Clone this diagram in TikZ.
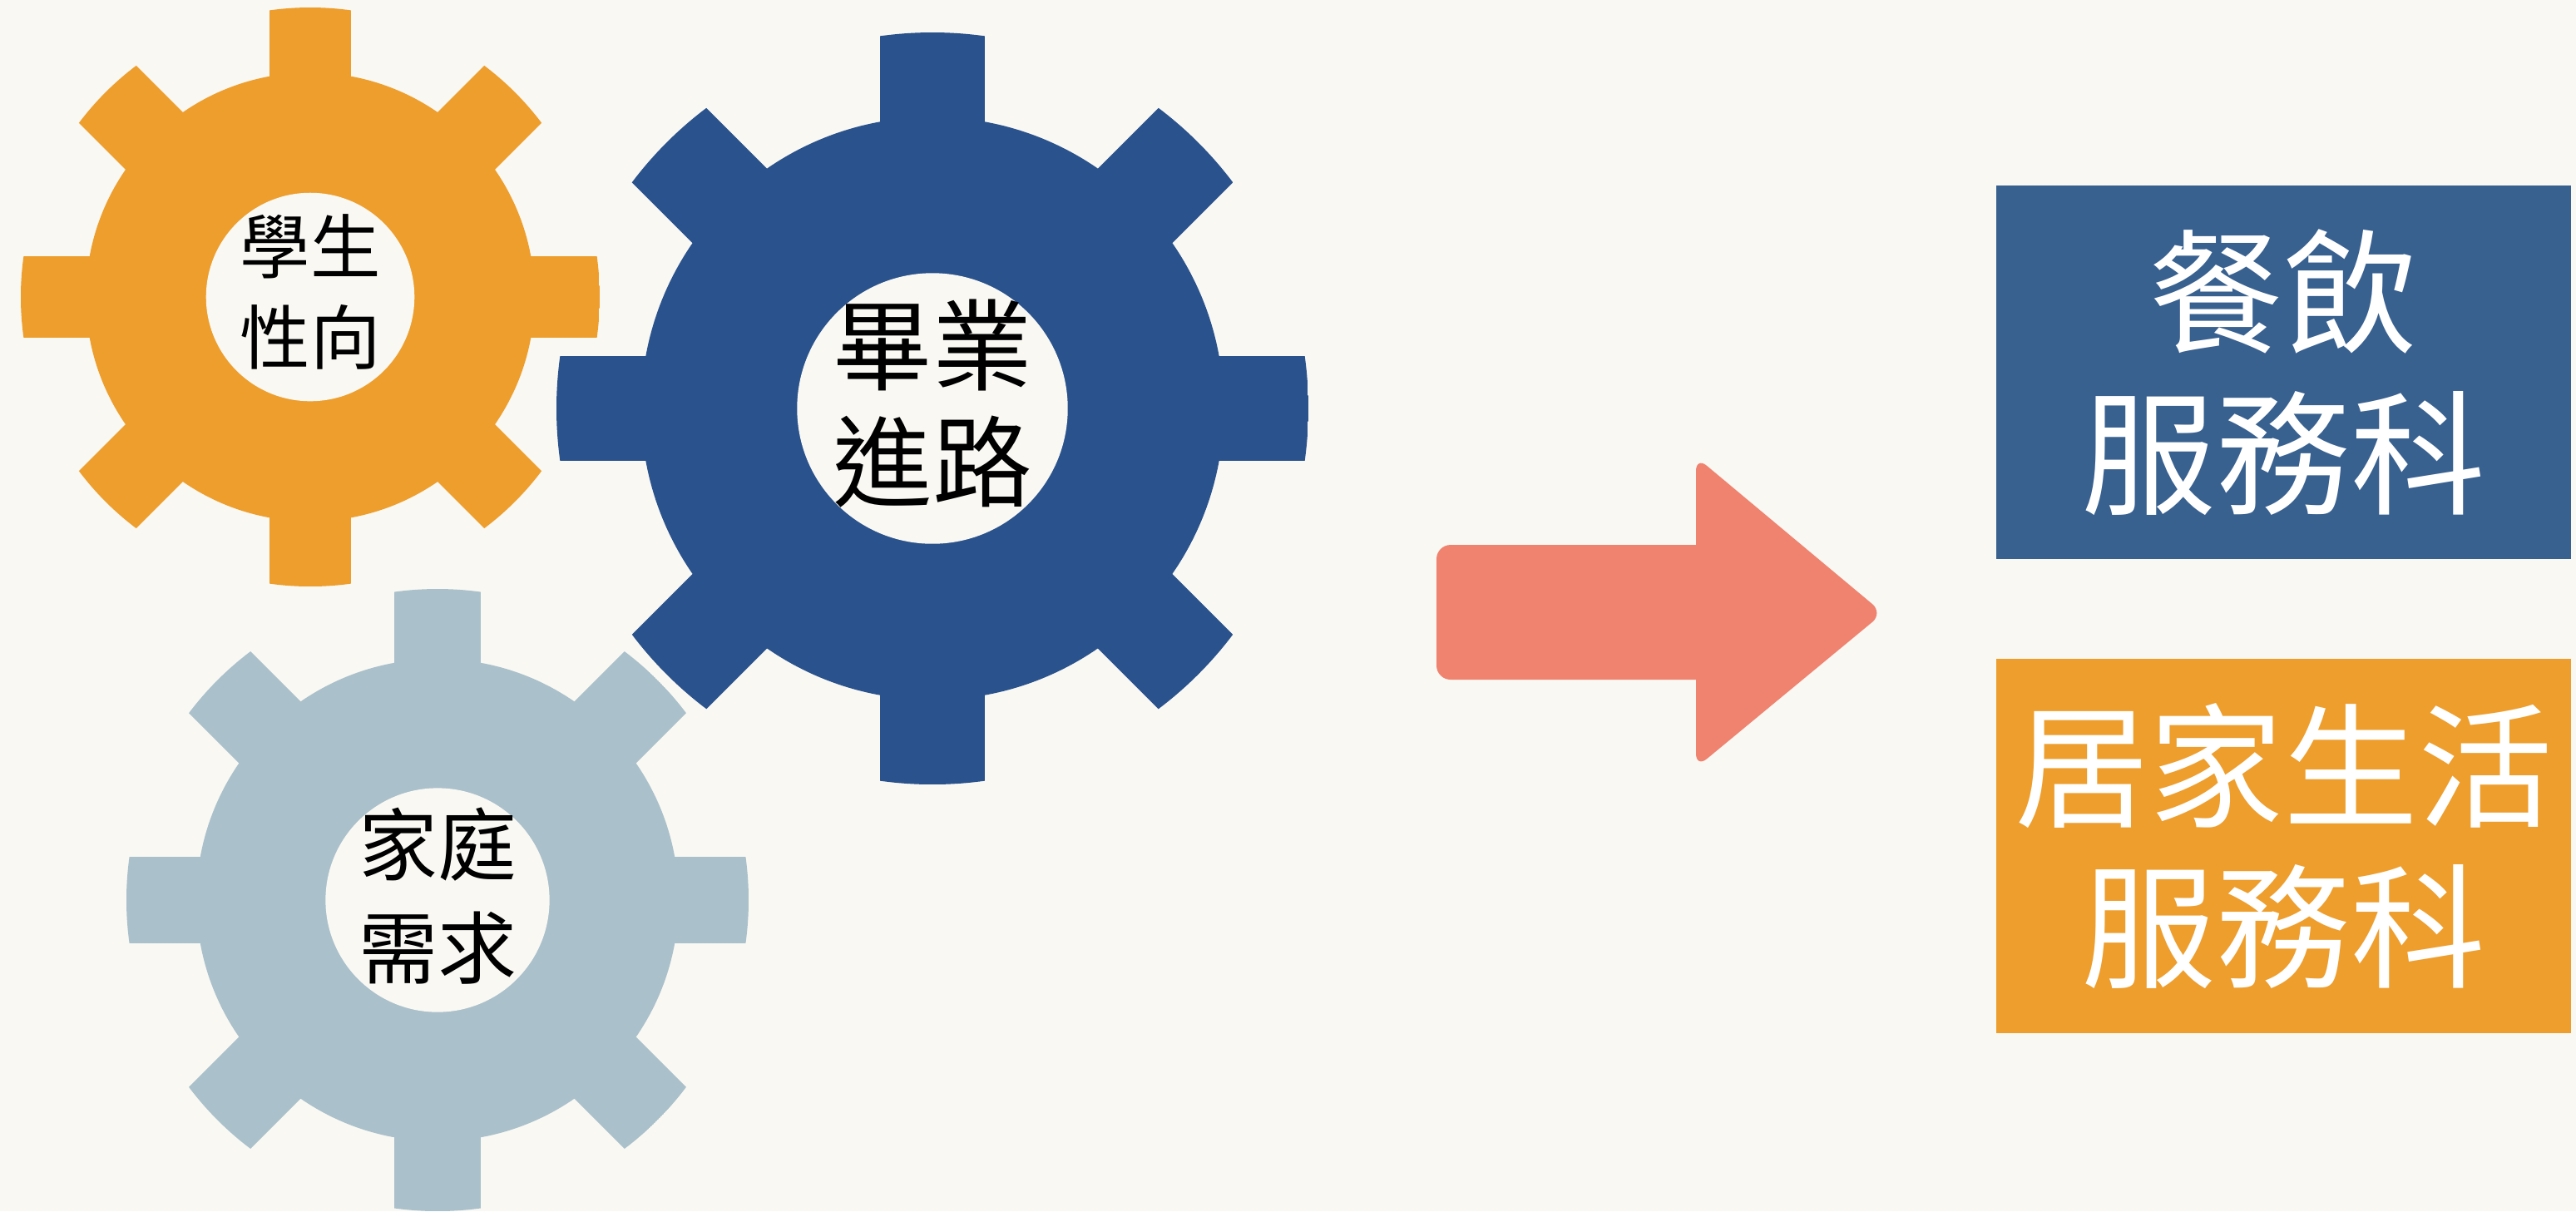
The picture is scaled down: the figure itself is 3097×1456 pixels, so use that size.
\documentclass[tikz,border=0pt]{standalone}
\usepackage{fontspec}
\newfontfamily\cjk{Noto Sans CJK TC}
\usetikzlibrary{positioning}
\definecolor{bgpaper}{HTML}{F9F8F3}
\definecolor{gearorange}{HTML}{EE9E2C}
\definecolor{gearblue}{HTML}{2A528C}
\definecolor{geargray}{HTML}{AAC0CB}
\definecolor{boxblue}{HTML}{386190}
\definecolor{boxorange}{HTML}{EE9E2D}
\definecolor{arrowred}{HTML}{EF836F}
\tikzset{
  label/.style = {align=center, inner sep=0pt, text=black},
  box/.style   = {rectangle, inner sep=0pt, align=center, text=white,
                  minimum width=6.91cm, minimum height=4.49cm,
                  font=\cjk\fontsize{46pt}{55pt}\selectfont},
}

\begin{document}
\begin{tikzpicture}[x=0.01cm, y=-0.01cm]

\fill[bgpaper] (0,0) rectangle (3097,1456);
\useasboundingbox (0,0) rectangle (3097,1456);

% gears: x / y / outer radius / colour
\foreach \gx/\gy/\gr/\gc in {373/357/348/gearorange,
                             1121/491/452/gearblue,
                             526/1082/374/geargray}{
  \pgfmathsetmacro{\gw}{0.14*\gr}
  \begin{scope}
    \clip (\gx,\gy) circle (\gr);
    \foreach \a in {0,45,90,135}
      \fill[\gc, rotate around={\a:(\gx,\gy)}]
        (\gx-\gr,\gy-\gw) rectangle (\gx+\gr,\gy+\gw);
  \end{scope}
  \fill[\gc] (\gx,\gy) circle ({0.775*\gr});
  \fill[bgpaper] (\gx,\gy) circle ({0.36*\gr});
}

% texts in the gears
\node[label, font=\cjk\fontsize{24pt}{31pt}\selectfont] (g1) at (373,351) {學生\\性向};
\node[label, font=\cjk\fontsize{34pt}{40pt}\selectfont] (g2) at (1121,485) {畢業\\進路};
\node[label, font=\cjk\fontsize{27pt}{35.5pt}\selectfont] (g3) at (526,1077) {家庭\\需求};

% arrow
\fill[arrowred, rounded corners=0.17cm] (1727,655) rectangle (2100,817);
\fill[arrowred, rounded corners=0.17cm] (2039,549) -- (2264,737) -- (2039,923) -- cycle;

% the two boxes
\node[box, fill=boxblue] (b1) at (2745.5,447.5) {餐飲\\服務科};
\node[box, fill=boxorange] (b2) at (2745.5,1017) {居家生活\\服務科};

\end{tikzpicture}
\end{document}
